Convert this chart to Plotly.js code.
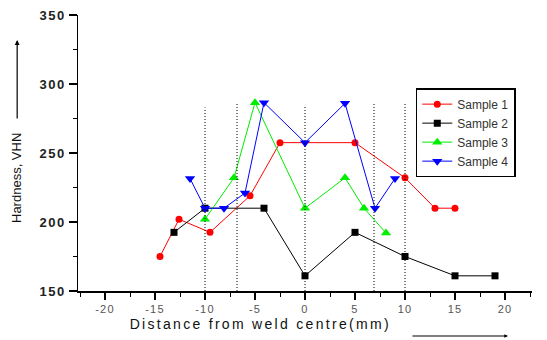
<!DOCTYPE html>
<html>
<head>
<meta charset="utf-8">
<script src="https://cdn.plot.ly/plotly-3.0.1.min.js"></script>
<style>html,body{margin:0;padding:0;background:#fff;}#chart{width:547px;height:340px;}</style>
</head>
<body>
<div id="chart"></div>
<script>
// Data
const sample1X = [-14.5, -12.6, -9.5, -5.5, -2.5, 5, 10, 13, 15];
const sample1Y = [175, 202, 192.5, 219, 257.5, 257.5, 232, 210, 210];
const sample2X = [-13.1, -10, -4.1, 0, 5, 10, 15, 19];
const sample2Y = [192.5, 210, 210, 161, 192.5, 175, 161, 161];
const sample3X = [-10, -7.1, -5, 0, 4, 5.9, 8.1];
const sample3Y = [202, 232, 286.5, 210, 232, 210, 192];
const sample4X = [-11.5, -10, -8.1, -6, -4.1, 0, 4, 7, 9];
const sample4Y = [231.5, 210, 210, 221, 286.5, 257.5, 286, 210, 231.5];
const seriesNames = ["Sample 1", "Sample 2", "Sample 3", "Sample 4"];
// dotted zone boundaries (x position, top value)
const zoneX = [-10, -6.8, 0, 6.9, 10];
const zoneTop = [283, 286, 284, 286, 287];
const xTickVals = [-20, -15, -10, -5, 0, 5, 10, 15, 20];
const yTickVals = [150, 200, 250, 300, 350];

const styles = [
  {color: "#ff0000", symbol: "circle", size: 7},
  {color: "#000000", symbol: "square", size: 7},
  {color: "#00ee00", symbol: "triangle-up", size: 9},
  {color: "#0000ff", symbol: "triangle-down", size: 9}
];
const xs = [sample1X, sample2X, sample3X, sample4X];
const ys = [sample1Y, sample2Y, sample3Y, sample4Y];

const traces = xs.map((x, i) => ({
  x: x, y: ys[i], name: seriesNames[i], type: "scatter", mode: "lines+markers",
  line: {color: styles[i].color, width: 1},
  marker: {color: styles[i].color, symbol: styles[i].symbol, size: styles[i].size}
}));

const shapes = zoneX.map((x, i) => ({
  type: "line", xref: "x", yref: "y", x0: x, x1: x, y0: 150, y1: zoneTop[i],
  line: {color: "#000", width: 1, dash: "1px,2px"}
}));

const fontFam = "Liberation Sans, Arial, sans-serif";
const layout = {
  width: 547, height: 340,
  margin: {l: 78, r: 15, t: 15, b: 49},
  paper_bgcolor: "#fff", plot_bgcolor: "#fff",
  showlegend: true,
  legend: {
    x: 0.744, y: 0.735, xanchor: "left", yanchor: "top",
    bordercolor: "#000", borderwidth: 1.5, bgcolor: "#fff",
    font: {family: fontFam, size: 12, color: "#333"},
    tracegroupgap: 0
  },
  xaxis: {
    range: [-22.7, 22.7], tickvals: xTickVals, ticktext: xTickVals.map(String),
    showgrid: false, zeroline: false, showline: true, linecolor: "#000", linewidth: 1.5,
    ticks: "outside", ticklen: 7, tickwidth: 1.5, tickcolor: "#000",
    minor: {ticks: "outside", ticklen: 4, tickwidth: 1, tickcolor: "#000", dtick: 2.5, showgrid: false},
    tickfont: {family: fontFam, size: 11, color: "#555"}
  },
  yaxis: {
    range: [150, 350], tickvals: yTickVals, ticktext: yTickVals.map(String),
    showgrid: false, zeroline: false, showline: true, linecolor: "#000", linewidth: 1.5,
    ticks: "outside", ticklen: 8, tickwidth: 1.5, tickcolor: "#000",
    minor: {ticks: "outside", ticklen: 4, tickwidth: 1, tickcolor: "#000", dtick: 25, showgrid: false},
    tickfont: {family: fontFam, size: 13, color: "#222"}
  },
  shapes: shapes,
  annotations: [
    {text: "Distance from weld centre(mm)", xref: "paper", yref: "paper",
     x: 0.403, y: -0.12, xanchor: "center", yanchor: "middle", showarrow: false,
     font: {family: fontFam, size: 14, color: "#111"}},
    {text: "Hardness, VHN", xref: "paper", yref: "paper", textangle: -90,
     x: -0.134, y: 0.41, xanchor: "center", yanchor: "middle", showarrow: false,
     font: {family: fontFam, size: 13, color: "#111"}},
    {text: "", xref: "paper", yref: "paper", x: -0.134, y: 0.909,
     showarrow: true, ax: 0, ay: 80, arrowhead: 2, arrowsize: 0.8, arrowwidth: 1.2, arrowcolor: "#000"},
    {text: "", xref: "paper", yref: "paper", x: 0.947, y: -0.163,
     showarrow: true, ax: -97, ay: 0, arrowhead: 2, arrowsize: 0.6, arrowwidth: 1.2, arrowcolor: "#000"}
  ]
};
Plotly.newPlot("chart", traces, layout, {displayModeBar: false, staticPlot: true}).then(gd => {
  const root = gd.querySelector(".main-svg").parentNode;
  root.querySelectorAll(".xtick text").forEach(t => t.style.letterSpacing = "1.2px");
  root.querySelectorAll(".ytick text").forEach(t => { t.style.letterSpacing = "1.6px"; t.style.fontWeight = "bold"; });
  const ann = root.querySelectorAll(".annotation-text");
  if (ann[0]) ann[0].style.letterSpacing = "2.3px";
});
</script>
</body>
</html>
